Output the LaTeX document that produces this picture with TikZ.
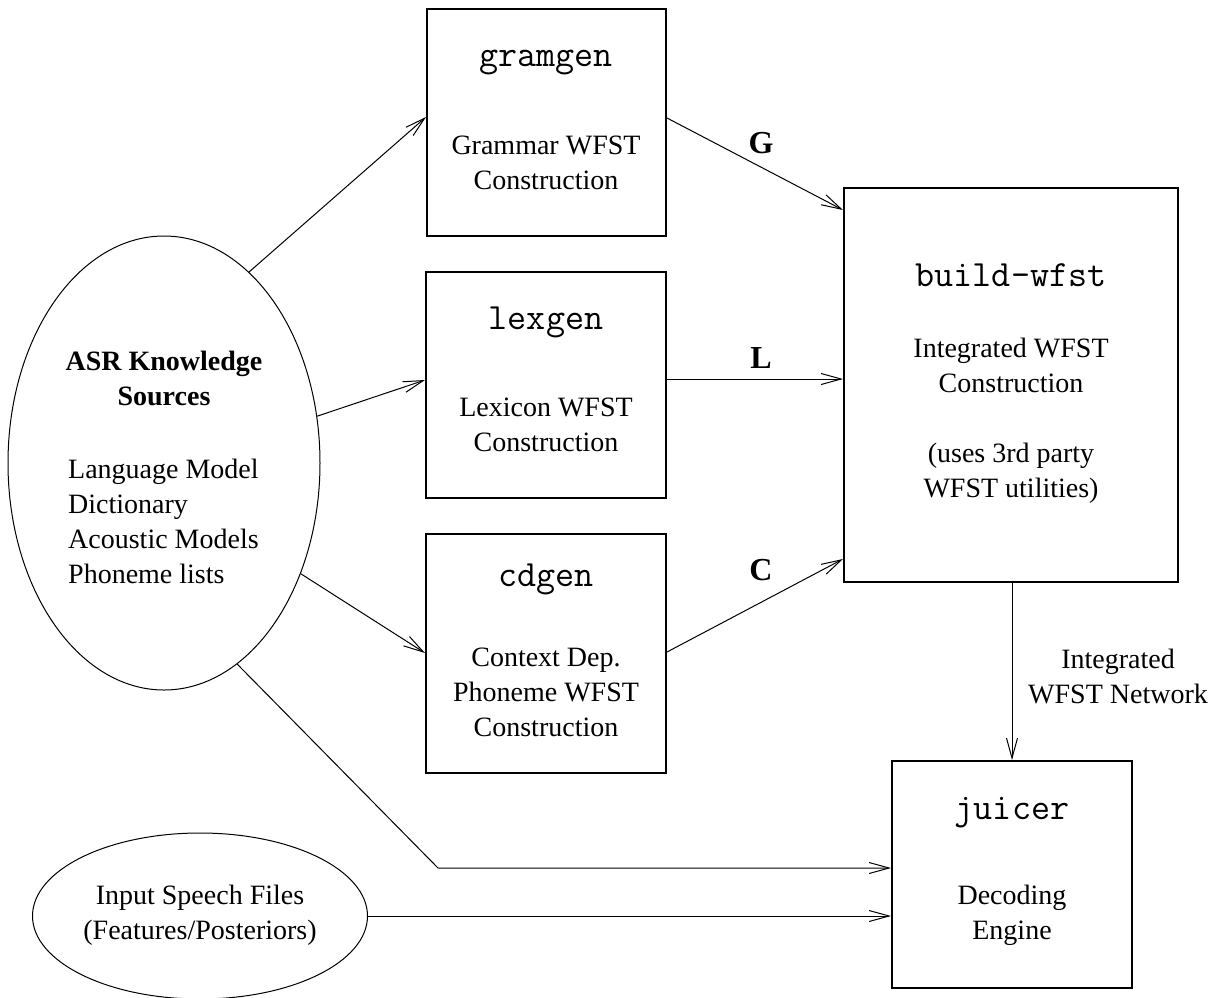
\documentclass[tikz,border=0pt]{standalone}
\usepackage{fontspec}
\setmainfont{Liberation Serif}
\usetikzlibrary{shapes.geometric,arrows.meta}
\begin{document}
\begin{tikzpicture}[x=1pt,y=-1pt,
  box/.style={draw,line width=2pt,rectangle,inner sep=0pt},
  prog/.style={font=\ttfamily\fontsize{37}{44}\selectfont,inner sep=0pt},
  txt/.style={font=\fontsize{28}{35}\selectfont,align=center,inner sep=0pt},
  lbl/.style={font=\bfseries\fontsize{32}{38}\selectfont,inner sep=0pt},
  src/.style={draw,ellipse,line width=1pt,inner sep=0pt},
  arr/.style={line width=1pt,-{Straight Barb[length=20pt,width=11pt]}}]
\useasboundingbox (0,0) rectangle (1220,997);
% boxes
\node[box,minimum width=239,minimum height=227] (gramgen) at (546.5,122.5) {};
\node[box,minimum width=240,minimum height=226] (lexgen) at (546,385) {};
\node[box,minimum width=240,minimum height=239] (cdgen) at (546,653.5) {};
\node[box,minimum width=334,minimum height=394] (build) at (1011,385) {};
\node[box,minimum width=240,minimum height=227] (juicer) at (1012,874.5) {};
% ellipses
\node[src,minimum width=312,minimum height=454] (asr) at (164,463) {};
\node[src,minimum width=335,minimum height=166] (speech) at (200,916) {};
% texts
\node[prog] (t1) at (546,63) {gramgen};
\node[txt] (t2) at (546,163) {Grammar WFST\\Construction};
\node[prog] (t3) at (546,322) {lexgen};
\node[txt] (t4) at (546,425) {Lexicon WFST\\Construction};
\node[prog] (t5) at (546,579) {cdgen};
\node[txt] (t6) at (546,692) {Context Dep.\\Phoneme WFST\\Construction};
\node[prog] (t7) at (1011,275) {build-wfst};
\node[txt] (t8) at (1011,365) {Integrated WFST\\Construction};
\node[txt] (t9) at (1011,473) {(uses 3rd party\\WFST utilities)};
\node[prog] (t10) at (1012,813) {juicer};
\node[txt] (t11) at (1012,915) {Decoding\\Engine};
\node[txt,font=\bfseries\fontsize{28}{35}\selectfont] (t12) at (164,378) {ASR Knowledge\\Sources};
\node[txt,align=left,anchor=west] (t13) at (68,521) {Language Model\\Dictionary\\Acoustic Models\\Phoneme lists};
\node[txt] (t14) at (200,915) {Input Speech Files\\(Features/Posteriors)};
\node[txt] (t15) at (1118,676) {Integrated\\WFST Network};
\node[lbl] (G) at (761,143) {G};
\node[lbl] (L) at (761,358) {L};
\node[lbl] (C) at (761,570) {C};
% connectors
\coordinate (bend) at (438,868);
\draw[arr] (asr.66.4) -- (gramgen.west |- 0,117);
\draw[arr] (asr.17.2) -- (lexgen.west |- 0,380);
\draw[arr] (asr.-39.3) -- (cdgen.west |- 0,653);
\draw[arr] (asr.-70.8) -- (bend) -- (juicer.west |- 0,868);
\draw[arr] (speech.east) -- (juicer.west |- 0,916);
\draw[arr] (gramgen.east |- 0,118) -- (build.west |- 0,210);
\draw[arr] (lexgen.east |- 0,379) -- (build.west |- 0,379);
\draw[arr] (cdgen.east |- 0,652) -- (build.west |- 0,559);
\draw[arr] (build.south -| 1012,0) -- (juicer.north -| 1012,0);
\end{tikzpicture}
\end{document}
